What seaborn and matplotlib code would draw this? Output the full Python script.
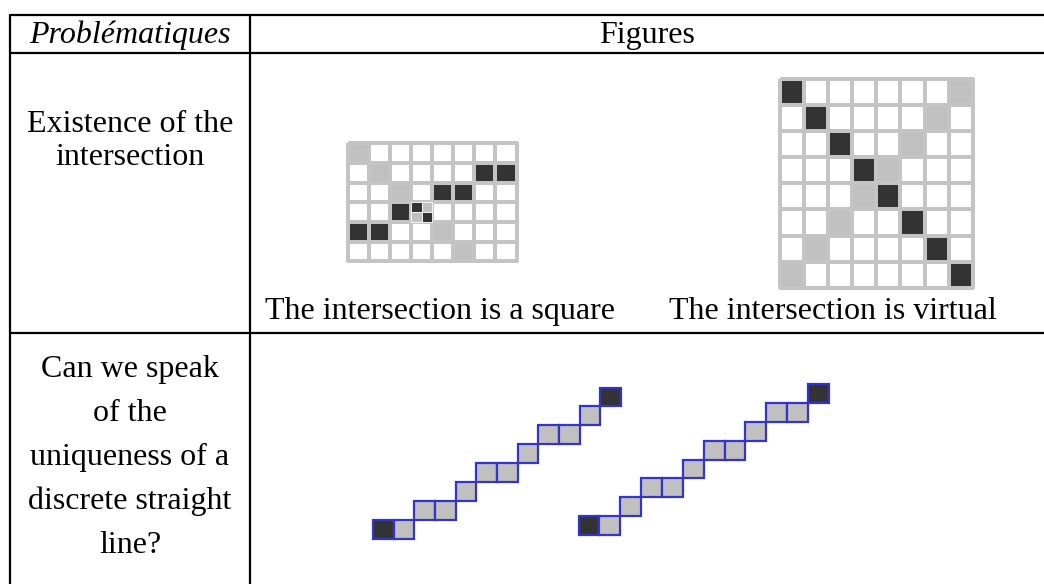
import numpy as np
import seaborn as sns
import matplotlib.pyplot as plt
from matplotlib.colors import ListedColormap
from matplotlib.patches import Rectangle

# texts
header_left = "Problématiques"
header_right = "Figures"
row1_label = ["Existence of the", "intersection"]
row2_label = ["Can we speak", "of the", "uniqueness of a", "discrete straight", "line?"]
captions = ["The intersection is a square", "The intersection is virtual"]

# cell states: 0 = empty, 1 = grey, 2 = black
square_grid = [
    [1, 0, 0, 0, 0, 0, 0, 0],
    [0, 1, 0, 0, 0, 0, 2, 2],
    [0, 0, 1, 0, 2, 2, 0, 0],
    [0, 0, 2, 0, 0, 0, 0, 0],
    [2, 2, 0, 0, 1, 0, 0, 0],
    [0, 0, 0, 0, 0, 1, 0, 0],
]
split_cell = (3, 3)          # row, col of the cell cut in four
split_pattern = [[2, 1], [1, 2]]

virtual_grid = [
    [2, 0, 0, 0, 0, 0, 0, 1],
    [0, 2, 0, 0, 0, 0, 1, 0],
    [0, 0, 2, 0, 0, 1, 0, 0],
    [0, 0, 0, 2, 1, 0, 0, 0],
    [0, 0, 0, 1, 2, 0, 0, 0],
    [0, 0, 1, 0, 0, 2, 0, 0],
    [0, 1, 0, 0, 0, 0, 2, 0],
    [1, 0, 0, 0, 0, 0, 0, 2],
]

# two discrete straight lines (column, row from bottom, state)
line_a_cols = [0, 1, 2, 3, 4, 5, 6, 7, 8, 9, 10, 11]
line_a_rows = [0, 0, 1, 1, 2, 3, 3, 4, 5, 5, 6, 7]
line_a_kind = [2, 1, 1, 1, 1, 1, 1, 1, 1, 1, 1, 2]
line_b_cols = [0, 1, 2, 3, 4, 5, 6, 7, 8, 9, 10, 11]
line_b_rows = [0, 0, 1, 2, 2, 3, 4, 4, 5, 6, 6, 7]
line_b_kind = [2, 1, 1, 1, 1, 1, 1, 1, 1, 1, 1, 2]

W, H = 1044, 584
palette = ["white", "#c0c0c0", "#333333"]
cmap = ListedColormap(palette)
serif = ["Liberation Serif", "DejaVu Serif"]
fs = 23

sns.set_theme(style="white")
plt.rcParams["font.family"] = serif
plt.rcParams["text.color"] = "black"

fig = plt.figure(figsize=(W / 100, H / 100), dpi=100)
ax = fig.add_axes([0, 0, 1, 1])
ax.set_xlim(0, W)
ax.set_ylim(H, 0)
ax.axis("off")


def px_axes(x0, y0, x1, y1):
    return fig.add_axes([x0 / W, 1 - y1 / H, (x1 - x0) / W, (y1 - y0) / H])


# table rules
lw = 1.6
ax.plot([10, W], [15, 15], color="black", lw=lw)
ax.plot([10, W], [53, 53], color="black", lw=lw)
ax.plot([10, W], [333, 333], color="black", lw=lw)
ax.plot([10, 10], [15, H], color="black", lw=lw)
ax.plot([250, 250], [15, H], color="black", lw=lw)

# texts
ax.text(130, 43, header_left, ha="center", va="baseline", fontsize=fs, style="italic")
ax.text(647, 43, header_right, ha="center", va="baseline", fontsize=fs)
for i, s in enumerate(row1_label):
    ax.text(130, 132 + 33 * i, s, ha="center", va="baseline", fontsize=fs)
for i, s in enumerate(row2_label):
    ax.text(130, 377 + 44 * i, s, ha="center", va="baseline", fontsize=fs)
ax.text(440, 319, captions[0], ha="center", va="baseline", fontsize=fs)
ax.text(833, 319, captions[1], ha="center", va="baseline", fontsize=fs)

# grid 1 : the intersection is a square
g1 = px_axes(348, 143.5, 516.5, 261.5)
sns.heatmap(np.array(square_grid), ax=g1, cmap=cmap, vmin=-0.5, vmax=2.5, cbar=False,
            linewidths=1.5, linecolor="#c4c4c4", xticklabels=False, yticklabels=False)
g1.collections[0].set_clip_on(False)
r, c = split_cell
for i, prow in enumerate(split_pattern):
    for j, k in enumerate(prow):
        g1.add_patch(Rectangle((c + j * 0.5, r + i * 0.5), 0.5, 0.5,
                               facecolor=palette[k], edgecolor="white", lw=0.6))

# grid 2 : the intersection is virtual
g2 = px_axes(779.5, 78.5, 973, 288)
sns.heatmap(np.array(virtual_grid), ax=g2, cmap=cmap, vmin=-0.5, vmax=2.5, cbar=False,
            linewidths=1.5, linecolor="#c4c4c4", xticklabels=False, yticklabels=False)
g2.collections[0].set_clip_on(False)

# discrete straight lines
for (x0, y0, x1, y1), cols, rows, kinds in [
    ((373, 387.5, 621, 539), line_a_cols, line_a_rows, line_a_kind),
    ((578.5, 384, 829, 535), line_b_cols, line_b_rows, line_b_kind),
]:
    la = px_axes(x0, y0, x1, y1)
    la.set_xlim(0, 12)
    la.set_ylim(0, 8)
    la.axis("off")
    for cc, rr, k in zip(cols, rows, kinds):
        la.add_patch(Rectangle((cc, rr), 1, 1, facecolor=palette[k],
                               edgecolor="#3434c8", lw=1.6, clip_on=False))

fig.savefig("out.png", dpi=100)
